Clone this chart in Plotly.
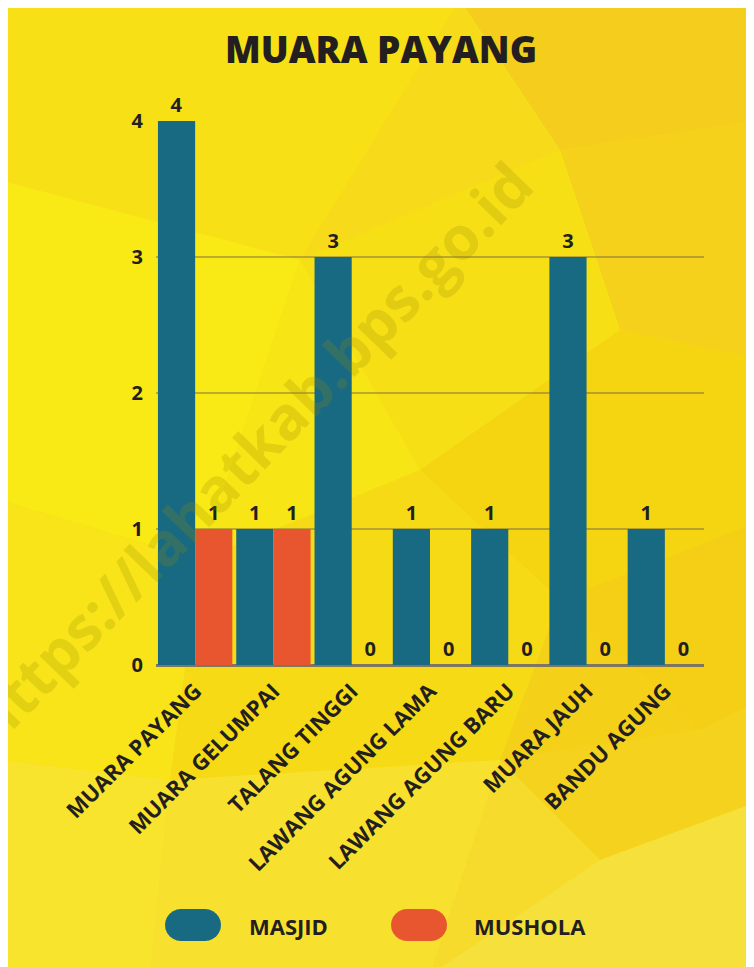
import math
import plotly.graph_objects as go

categories = ["MUARA PAYANG", "MUARA GELUMPAI", "TALANG TINGGI", "LAWANG AGUNG LAMA",
              "LAWANG AGUNG BARU", "MUARA JAUH", "BANDU AGUNG"]
masjid = [4, 1, 3, 1, 1, 3, 1]
mushola = [1, 1, 0, 0, 0, 0, 0]
series_names = ["MASJID", "MUSHOLA"]
series_colors = ["#186a83", "#e8562f"]
title_text = "MUARA PAYANG"
y_ticks = [0, 1, 2, 3, 4]

OX, OY = 8, 8          # page body margin
W, H = 746, 959        # figure size
PL, PR, PT, PB = 156, 704, 121, 665   # plot area in screen pixels
L, R, T, B = PL - OX, OX + W - PR, PT - OY, OY + H - PB
PW, PH = PR - PL, PB - PT

def px(x):
    return (x - PL) / PW

def py(y):
    return (PB - y) / PH

FONT = "Open Sans"
DARK = "#231f20"

fig = go.Figure()
for name, vals, col in zip(series_names, [masjid, mushola], series_colors):
    fig.add_trace(go.Bar(
        x=categories, y=vals, name=name, marker=dict(color=col, line=dict(width=0)),
        text=[str(v) for v in vals], textposition="outside", cliponaxis=False,
        textfont=dict(family=FONT, size=20, color=DARK, weight="bold"),
        showlegend=False,
    ))

# low-poly yellow background
polys = [
    ([(0, 0), (460, 0), (300, 260), (0, 180)], "#f8e016"),
    ([(460, 0), (762, 0), (762, 120), (560, 150)], "#f5cd1c"),
    ([(300, 260), (460, 0), (560, 150)], "#f7da1a"),
    ([(560, 150), (762, 120), (762, 360), (620, 330)], "#f5d11c"),
    ([(0, 180), (300, 260), (200, 560), (0, 500)], "#f9e914"),
    ([(300, 260), (560, 150), (620, 330), (420, 470)], "#f7df16"),
    ([(200, 560), (300, 260), (420, 470)], "#f8e515"),
    ([(420, 470), (620, 330), (762, 360), (762, 520), (560, 600)], "#f5d412"),
    ([(0, 500), (200, 560), (170, 780), (0, 760)], "#f8e418"),
    ([(200, 560), (420, 470), (560, 600), (500, 760), (170, 780)], "#f6da15"),
    ([(560, 600), (762, 520), (762, 700), (700, 730)], "#f4cf16"),
    ([(500, 760), (560, 600), (700, 730)], "#f4d018"),
    ([(0, 760), (170, 780), (150, 975), (0, 975)], "#f8e42c"),
    ([(170, 780), (500, 760), (430, 975), (150, 975)], "#f7e12e"),
    ([(500, 760), (700, 730), (762, 700), (762, 800), (600, 860)], "#f4d21e"),
    ([(500, 760), (600, 860), (430, 975)], "#f6db2c"),
    ([(600, 860), (762, 800), (762, 975), (430, 975)], "#f6e03c"),
]
shapes = []
for pts, col in polys:
    path = "M " + " L ".join(f"{px(x):.5f},{py(y):.5f}" for x, y in pts) + " Z"
    shapes.append(dict(type="path", xref="paper", yref="paper", path=path,
                       fillcolor=col, line=dict(width=0), layer="below"))

def pill(x0, x1, y0, y1, col):
    r = (y1 - y0) / 2
    cy = (y0 + y1) / 2
    pts = []
    for i in range(13):
        a = math.pi / 2 + math.pi * i / 12
        pts.append((x0 + r + r * math.cos(a), cy - r * math.sin(a)))
    for i in range(13):
        a = -math.pi / 2 + math.pi * i / 12
        pts.append((x1 - r + r * math.cos(a), cy - r * math.sin(a)))
    path = "M " + " L ".join(f"{px(x):.5f},{py(y):.5f}" for x, y in pts) + " Z"
    return dict(type="path", xref="paper", yref="paper", path=path,
                fillcolor=col, line=dict(width=0), layer="above")

shapes.append(pill(165, 221, 909, 941, series_colors[0]))
shapes.append(pill(391, 447, 909, 941, series_colors[1]))

annotations = [
    dict(text=series_names[0], x=px(247), y=py(926), xref="paper", yref="paper",
         xanchor="left", yanchor="middle", showarrow=False,
         font=dict(family=FONT, size=22, color=DARK, weight="bold")),
    dict(text=series_names[1], x=px(472), y=py(926), xref="paper", yref="paper",
         xanchor="left", yanchor="middle", showarrow=False,
         font=dict(family=FONT, size=22, color=DARK, weight="bold")),
    dict(text="https://lahatkab.bps.go.id", x=px(250), y=py(452), xref="paper", yref="paper",
         xanchor="center", yanchor="middle", showarrow=False, textangle=-46,
         font=dict(family=FONT, size=60, color="rgba(150,135,0,0.22)", weight="bold")),
]

fig.update_layout(
    width=W, height=H,
    margin=dict(l=L, r=R, t=T, b=B),
    paper_bgcolor="#f7dc18",
    plot_bgcolor="rgba(0,0,0,0)",
    barmode="group", bargap=0.05, bargroupgap=0.0,
    title=dict(text=title_text, x=(381 - OX) / W, xanchor="center", y=1 - (50 - OY) / H,
               yanchor="middle",
               font=dict(family=FONT, size=37, color=DARK, weight=800)),
    showlegend=False,
    shapes=shapes,
    annotations=annotations,
    xaxis=dict(tickangle=-45, tickfont=dict(family=FONT, size=22, color=DARK, weight="bold"),
               showgrid=False, showline=False, ticks="", zeroline=False,
               ticklabelstandoff=8),
    yaxis=dict(range=[0, 4], tickvals=y_ticks, showgrid=True,
               gridcolor="rgba(110,100,70,0.45)", gridwidth=1.5,
               zeroline=True, zerolinecolor="#7d7660", zerolinewidth=2.5,
               tickfont=dict(family=FONT, size=20, color=DARK, weight="bold"),
               ticks="", ticklabelstandoff=12, showline=False),
)

fig.write_html("out.html")
